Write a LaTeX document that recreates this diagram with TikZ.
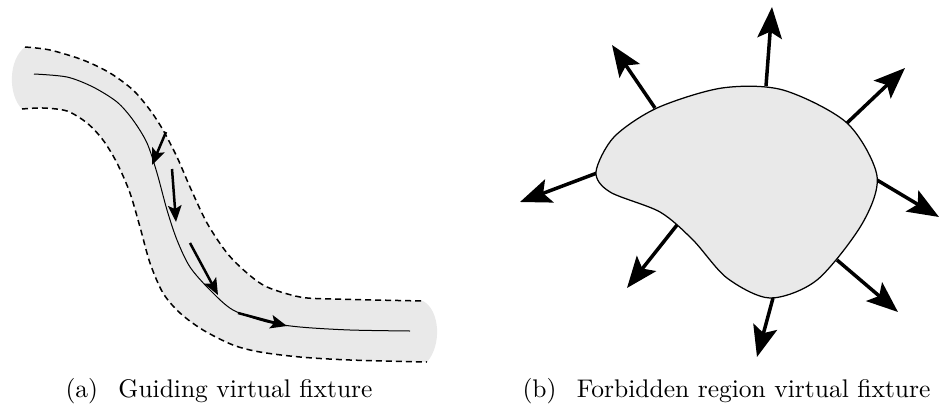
\documentclass[tikz,border=0pt]{standalone}
\usetikzlibrary{arrows.meta}
\definecolor{bandgray}{RGB}{233,233,233}
\tikzset{
  bandedge/.style={line width=0.6pt, dash pattern=on 2.4pt off 1.6pt},
  guide/.style={line width=0.4pt},
  pushsmall/.style={line width=1pt, -{Stealth[length=6.6pt, width=5.4pt, inset=1.4pt]}},
  pushbig/.style={line width=1.4pt, -{Stealth[length=12.5pt, width=9.8pt, inset=2.6pt]}},
  outline/.style={line width=0.5pt, fill=bandgray},
  caption/.style={anchor=base west, inner sep=0pt, font=\fontsize{10.2}{12}\selectfont}
}
\begin{document}
\begin{tikzpicture}[x=0.4pt, y=-0.4pt]
\useasboundingbox (0,0) rectangle (940,407);

% ---- (a) guiding band ----
\fill[bandgray]
  plot[smooth] coordinates {(25,47) (50,50) (83,60) (110,73) (133,90) (150,110) (163,130) (177,157) (190,187) (207,223) (227,253) (247,273) (267,287) (300,297) (333,299) (423,301)}
  .. controls (440,310) and (442,345) .. (427,362)
  -- plot[smooth] coordinates {(427,362) (350,360) (300,357) (260,352) (233,345) (203,330) (180,313) (163,293) (150,263) (140,227) (130,193) (117,163) (103,140) (87,123) (67,111) (43,108) (22,109)}
  .. controls (8,95) and (8,60) .. (25,47) -- cycle;

\draw[bandedge] plot[smooth] coordinates {(25,47) (50,50) (83,60) (110,73) (133,90) (150,110) (163,130) (177,157) (190,187) (207,223) (227,253) (247,273) (267,287) (300,297) (333,299) (423,301)};
\draw[bandedge] plot[smooth] coordinates {(22,109) (43,108) (67,111) (87,123) (103,140) (117,163) (130,193) (140,227) (150,263) (163,293) (180,313) (203,330) (233,345) (260,352) (300,357) (350,360) (427,362)};

\draw[guide] plot[smooth] coordinates {(34,74) (67,77) (93,87) (117,102) (133,120) (147,143) (157,173) (167,210) (177,240) (190,267) (210,290) (233,310) (267,322) (300,327) (350,330) (410,331)};

\coordinate (g1s) at (166,132); \coordinate (g1e) at (152,165);
\coordinate (g2s) at (172,169); \coordinate (g2e) at (176,222);
\coordinate (g3s) at (190,243); \coordinate (g3e) at (218,295);
\coordinate (g4s) at (238,313); \coordinate (g4e) at (287,326);
\draw[pushsmall] (g1s) -- (g1e);
\draw[pushsmall] (g2s) -- (g2e);
\draw[pushsmall] (g3s) -- (g3e);
\draw[pushsmall] (g4s) -- (g4e);

% ---- (b) forbidden region ----
\coordinate (r1s) at (766,86);  \coordinate (r1e) at (772,7);
\coordinate (r2s) at (655,108); \coordinate (r2e) at (612,45);
\coordinate (r3s) at (847,123); \coordinate (r3e) at (905,68);
\coordinate (r4s) at (597,173); \coordinate (r4e) at (520,202);
\coordinate (r5s) at (877,180); \coordinate (r5e) at (939,217);
\coordinate (r6s) at (677,225); \coordinate (r6e) at (627,288);
\coordinate (r7s) at (837,260); \coordinate (r7e) at (898,312);
\coordinate (r8s) at (773,298); \coordinate (r8e) at (757,357);
\foreach \k in {1,...,8} \draw[pushbig] (r\k s) -- (r\k e);

\draw[outline] plot[smooth cycle] coordinates {
  (596,172) (614,137) (657,108) (722,88) (783,90) (847,123) (877,176)
  (862,224) (817,280) (770,298) (727,278) (693,240) (660,212) (610,192)};

% ---- captions ----
\node[caption] (capa) at (65,397) {(a)\hspace{0.8em}Guiding virtual fixture};
\node[caption] (capb) at (522,397) {(b)\hspace{0.8em}Forbidden region virtual fixture};
\end{tikzpicture}
\end{document}
